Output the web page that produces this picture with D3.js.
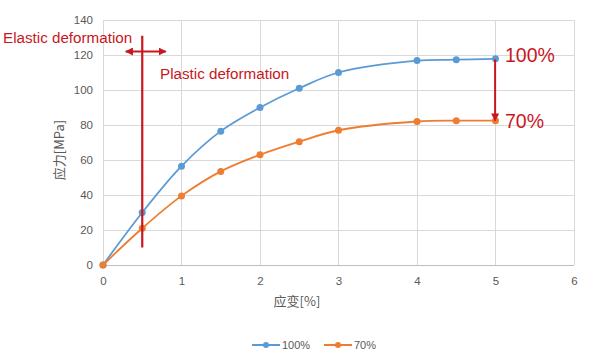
<!DOCTYPE html>
<html><head><meta charset="utf-8">
<script src="https://cdn.jsdelivr.net/npm/d3@7"></script>
<style>body{margin:0;background:#fff}svg{display:block}text{font-family:"Noto Sans CJK SC","Liberation Sans",Arial,sans-serif}</style>
</head><body>
<script>
const strain = [0, 0.5, 1, 1.5, 2, 2.5, 3, 4, 4.5, 5];
const stress100 = [0, 30, 56.5, 76.5, 90, 101, 110, 116.8, 117.3, 117.8];
const stress70 = [0, 21, 39.5, 53.5, 63, 70.5, 77, 82, 82.5, 82.5];
const seriesNames = ["100%", "70%"];
const xTicks = [0, 1, 2, 3, 4, 5, 6];
const yTicks = [0, 20, 40, 60, 80, 100, 120, 140];
const colors = ["#5b9bd5", "#ed7d31"];
const red = "#c8171e";

const W = 614, H = 355;
const svg = d3.select("body").append("svg").attr("width", W).attr("height", H);
const x = d3.scaleLinear().domain([0, 6]).range([103, 574]);
const y = d3.scaleLinear().domain([0, 140]).range([265, 20]);

// grid
svg.append("g").selectAll("line").data(yTicks).join("line")
  .attr("x1", x(0)).attr("x2", x(6)).attr("y1", d => y(d)).attr("y2", d => y(d))
  .attr("stroke", "#d9d9d9").attr("stroke-width", 1).attr("shape-rendering","crispEdges");
svg.append("g").selectAll("line").data(xTicks).join("line")
  .attr("y1", y(0)).attr("y2", y(140)).attr("x1", d => x(d)).attr("x2", d => x(d))
  .attr("stroke", "#d9d9d9").attr("stroke-width", 1).attr("shape-rendering","crispEdges");

// axes
const xa = svg.append("g").attr("transform", `translate(0,${y(0)})`)
  .call(d3.axisBottom(x).tickValues(xTicks).tickSize(0).tickPadding(12).tickFormat(d3.format("d")));
const ya = svg.append("g").attr("transform", `translate(${x(0)},0)`)
  .call(d3.axisLeft(y).tickValues(yTicks).tickSize(0).tickPadding(10));
[xa, ya].forEach(a => {
  a.select(".domain").remove();
  a.selectAll("text").attr("fill", "#595959").style("font-size", "11.5px").style("font-family", "Liberation Sans, Arial, sans-serif");
});
svg.append("line").attr("x1", x(0)).attr("x2", x(6)).attr("y1", y(0)).attr("y2", y(0))
  .attr("stroke", "#bfbfbf").attr("shape-rendering","crispEdges");

// axis titles
svg.append("text").attr("x", 297).attr("y", 306).attr("text-anchor", "middle")
  .attr("fill", "#595959").style("font-size", "13px").text("应变[%]");
svg.append("text").attr("transform", "translate(64,150) rotate(-90)").attr("text-anchor", "middle")
  .attr("fill", "#595959").style("font-size", "13px").text("应力[MPa]");

// series
const allSeries = [stress100, stress70];
const line = d3.line().x((d, i) => x(strain[i])).y(d => y(d)).curve(d3.curveCatmullRom.alpha(0.5));
allSeries.forEach((vals, k) => {
  svg.append("path").datum(vals).attr("d", line).attr("fill", "none")
    .attr("stroke", colors[k]).attr("stroke-width", 1.8);
  svg.append("g").selectAll("circle").data(vals).join("circle")
    .attr("cx", (d, i) => x(strain[i])).attr("cy", d => y(d)).attr("r", 3.5)
    .attr("fill", colors[k]);
});

// annotations
const defs = svg.append("defs");
defs.append("marker").attr("id", "ah").attr("viewBox", "0 0 10 10").attr("refX", 9).attr("refY", 5)
  .attr("markerWidth", 4).attr("markerHeight", 4).attr("orient", "auto-start-reverse")
  .append("path").attr("d", "M0,0L10,5L0,10z").attr("fill", red);

svg.append("line").attr("x1", x(0.5)).attr("x2", x(0.5)).attr("y1", y(131)).attr("y2", y(10))
  .attr("stroke", red).attr("stroke-width", 2.2);
svg.append("line").attr("x1", x(0.29)).attr("x2", x(0.8)).attr("y1", y(122)).attr("y2", y(122))
  .attr("stroke", red).attr("stroke-width", 2).attr("marker-start", "url(#ah)").attr("marker-end", "url(#ah)");
svg.append("line").attr("x1", x(4.995)).attr("x2", x(4.995)).attr("y1", y(117.5)).attr("y2", y(82.5))
  .attr("stroke", red).attr("stroke-width", 2).attr("marker-end", "url(#ah)");

const lbl = (t, xx, yy, fs) => svg.append("text").attr("x", xx).attr("y", yy).attr("fill", red)
  .style("font-size", fs).style("font-family", "Liberation Sans, Arial, sans-serif").text(t);
lbl("Elastic deformation", 3, 43, "15.2px");
lbl("Plastic deformation", 160, 79, "15.2px");
lbl(seriesNames[0], 505, 62, "19.5px");
lbl(seriesNames[1], 505, 128, "19.5px");

// legend
const lg = [{x: 252}, {x: 324}];
seriesNames.forEach((n, k) => {
  const lx = lg[k].x;
  svg.append("line").attr("x1", lx).attr("x2", lx + 28).attr("y1", 345).attr("y2", 345)
    .attr("stroke", colors[k]).attr("stroke-width", 2);
  svg.append("circle").attr("cx", lx + 14).attr("cy", 345).attr("r", 3).attr("fill", colors[k]);
  svg.append("text").attr("x", lx + 30).attr("y", 349).attr("fill", "#595959")
    .style("font-size", "11px").style("font-family", "Liberation Sans, Arial, sans-serif").text(n);
});
</script>
</body></html>
